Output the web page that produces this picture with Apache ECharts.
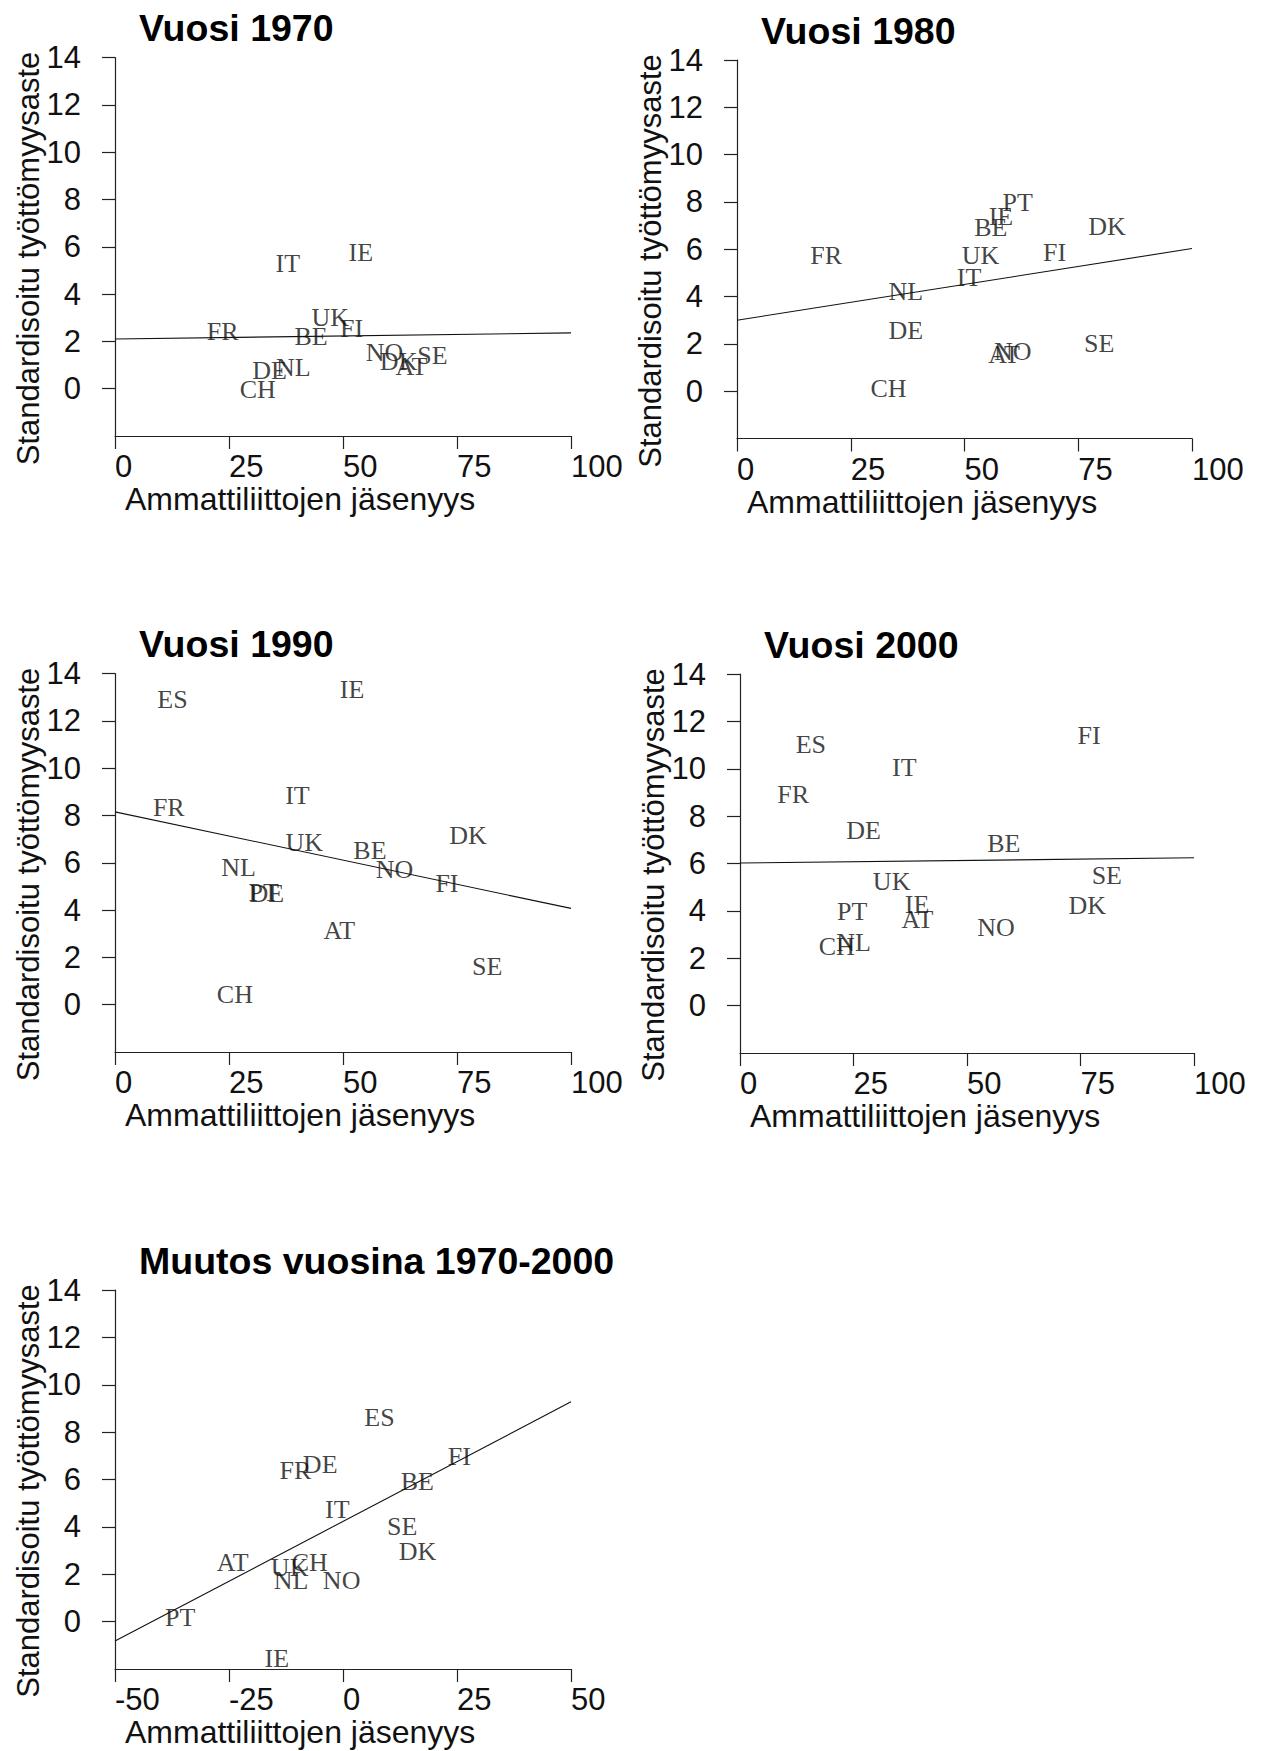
<!DOCTYPE html>
<html>
<head>
<meta charset="utf-8">
<script src="https://cdn.jsdelivr.net/npm/echarts@6/dist/echarts.min.js"></script>
<style>
html,body{margin:0;padding:0;background:#fff;}
#c{width:1264px;height:1751px;}
</style>
</head>
<body>
<div id="c"></div>
<script>
// ---------------- DATA ----------------
const panelTitles = ['Vuosi 1970', 'Vuosi 1980', 'Vuosi 1990', 'Vuosi 2000', 'Muutos vuosina 1970-2000'];
const xAxisName = 'Ammattiliittojen jäsenyys';
const yAxisName = 'Standardisoitu työttömyysaste';

const yTicks = [0, 2, 4, 6, 8, 10, 12, 14];
const xTicksLevel = [0, 25, 50, 75, 100];
const xTicksChange = [-50, -25, 0, 25, 50];

const codes1970 = ['AT', 'BE', 'CH', 'DE', 'DK', 'FI', 'FR', 'IE', 'IT', 'NL', 'NO', 'SE', 'UK'];
const union1970 = [65.0, 43.0, 31.3, 33.9, 62.2, 51.9, 23.6, 53.9, 37.9, 39.1, 59.1, 69.6, 47.2];
const unemp1970 = [0.92, 2.2, -0.05, 0.77, 1.15, 2.55, 2.43, 5.74, 5.29, 0.9, 1.53, 1.42, 3.0];
const line1970 = [[0, 2.1], [100, 2.36]];

const codes1980 = ['AT', 'BE', 'CH', 'DE', 'DK', 'FI', 'FR', 'IE', 'IT', 'NL', 'NO', 'PT', 'SE', 'UK'];
const union1980 = [58.7, 55.8, 33.3, 37.1, 81.3, 69.8, 19.6, 58.0, 51.0, 37.1, 60.6, 61.7, 79.6, 53.5];
const unemp1980 = [1.56, 6.94, 0.13, 2.56, 6.96, 5.85, 5.75, 7.39, 4.79, 4.23, 1.67, 7.97, 2.03, 5.75];
const line1980 = [[0, 3.0], [100, 6.03]];

const codes1990 = ['AT', 'BE', 'CH', 'DE', 'DK', 'ES', 'FI', 'FR', 'IE', 'IT', 'NL', 'NO', 'PT', 'SE', 'UK'];
const union1990 = [49.2, 55.9, 26.3, 33.3, 77.4, 12.6, 72.8, 11.8, 52.0, 40.0, 27.1, 61.3, 32.6, 81.6, 41.5];
const unemp1990 = [3.14, 6.51, 0.44, 4.71, 7.14, 12.9, 5.14, 8.33, 13.33, 8.86, 5.8, 5.71, 4.74, 1.61, 6.86];
const line1990 = [[0, 8.15], [100, 4.07]];

const codes2000 = ['AT', 'BE', 'CH', 'DE', 'DK', 'ES', 'FI', 'FR', 'IE', 'IT', 'NL', 'NO', 'PT', 'SE', 'UK'];
const union2000 = [39.1, 58.1, 21.3, 27.2, 76.5, 15.6, 76.9, 11.7, 39.0, 36.2, 25.0, 56.4, 24.7, 80.8, 33.4];
const unemp2000 = [3.64, 6.84, 2.5, 7.41, 4.22, 11.02, 11.41, 8.91, 4.28, 10.05, 2.68, 3.31, 3.96, 5.5, 5.25];
const line2000 = [[0, 6.02], [100, 6.24]];

const codesChange = ['AT', 'BE', 'CH', 'DE', 'DK', 'ES', 'FI', 'FR', 'IE', 'IT', 'NL', 'NO', 'PT', 'SE', 'UK'];
const unionChange = [-24.2, 16.3, -7.3, -5.0, 16.35, 8.0, 25.5, -10.45, -14.5, -1.25, -11.4, -0.3, -35.7, 13.0, -11.7];
const unempChange = [2.49, 5.91, 2.5, 6.63, 2.96, 8.63, 6.97, 6.4, -1.57, 4.74, 1.72, 1.72, 0.19, 4.02, 2.29];
const lineChange = [[-50, -0.82], [50, 9.28]];

// ---------------- LAYOUT / STYLE ----------------
const SANS = '"Liberation Sans", Arial, Helvetica, sans-serif';
const SERIF = '"Liberation Serif", "Times New Roman", serif';
const AXIS_COLOR = '#222';

const panels = [
  {codes: codes1970, x: union1970, y: unemp1970, fit: line1970, xTicks: xTicksLevel, grid: {left: 115, top: 57.5, width: 456, height: 378.5}},
  {codes: codes1980, x: union1980, y: unemp1980, fit: line1980, xTicks: xTicksLevel, grid: {left: 737, top: 60, width: 455, height: 378.5}},
  {codes: codes1990, x: union1990, y: unemp1990, fit: line1990, xTicks: xTicksLevel, grid: {left: 115, top: 673.5, width: 456, height: 378.5}},
  {codes: codes2000, x: union2000, y: unemp2000, fit: line2000, xTicks: xTicksLevel, grid: {left: 740, top: 674, width: 454, height: 379}},
  {codes: codesChange, x: unionChange, y: unempChange, fit: lineChange, xTicks: xTicksChange, grid: {left: 115, top: 1290, width: 456, height: 379}}
];

const grid = [], xAxis = [], yAxis = [], series = [], graphic = [];

panels.forEach((p, i) => {
  grid.push(Object.assign({containLabel: false}, p.grid));
  const xt = p.xTicks;
  xAxis.push({
    gridIndex: i, type: 'value',
    min: xt[0], max: xt[xt.length - 1], interval: xt[1] - xt[0],
    axisLine: {show: true, onZero: false, lineStyle: {color: AXIS_COLOR, width: 1.2}},
    axisTick: {show: true, length: 13, lineStyle: {color: AXIS_COLOR, width: 1.2}},
    axisLabel: {show: true, align: 'left', margin: 15, fontSize: 31, fontFamily: SANS, color: '#111',
      showMinLabel: true, showMaxLabel: true},
    splitLine: {show: false}
  });
  yAxis.push({
    gridIndex: i, type: 'value',
    min: -2, max: 14, interval: 2,
    axisLine: {show: true, onZero: false, lineStyle: {color: AXIS_COLOR, width: 1.2}},
    axisTick: {show: true, length: 13, customValues: yTicks, lineStyle: {color: AXIS_COLOR, width: 1.2}},
    axisLabel: {show: true, margin: 34, fontSize: 31, fontFamily: SANS, color: '#111', customValues: yTicks,
      formatter: v => (v < 0 ? '' : String(v))},
    splitLine: {show: false}
  });
  series.push({
    type: 'line', xAxisIndex: i, yAxisIndex: i,
    data: p.fit, symbol: 'none', silent: true, z: 1,
    lineStyle: {color: '#111', width: 1.1}
  });
  series.push({
    type: 'scatter', xAxisIndex: i, yAxisIndex: i,
    data: p.codes.map((c, k) => ({name: c, value: [p.x[k], p.y[k]]})),
    symbolSize: 0, silent: true, z: 3,
    label: {show: true, position: 'inside', formatter: '{b}', fontFamily: SERIF, fontSize: 26, color: '#111'},
    labelLayout: {hideOverlap: false}
  });
  const g = p.grid;
  graphic.push({
    type: 'text', x: g.left + 24, y: g.top - 29.5,
    style: {text: panelTitles[i], font: 'bold 37.5px ' + SANS, fill: '#000',
      textAlign: 'left', textVerticalAlign: 'middle', align: 'left', verticalAlign: 'middle'}
  });
  graphic.push({
    type: 'text', x: g.left + 10, y: g.top + g.height + 63,
    style: {text: xAxisName, font: '32px ' + SANS, fill: '#111',
      textAlign: 'left', textVerticalAlign: 'middle', align: 'left', verticalAlign: 'middle'}
  });
  graphic.push({
    type: 'text', x: g.left - 87, y: g.top + 201, rotation: Math.PI / 2,
    style: {text: yAxisName, font: '31px ' + SANS, fill: '#111',
      textAlign: 'center', textVerticalAlign: 'middle', align: 'center', verticalAlign: 'middle'}
  });
});

const chart = echarts.init(document.getElementById('c'), null, {renderer: 'svg'});
chart.setOption({
  backgroundColor: '#fff',
  animation: false,
  grid, xAxis, yAxis, series, graphic
});
</script>
</body>
</html>
